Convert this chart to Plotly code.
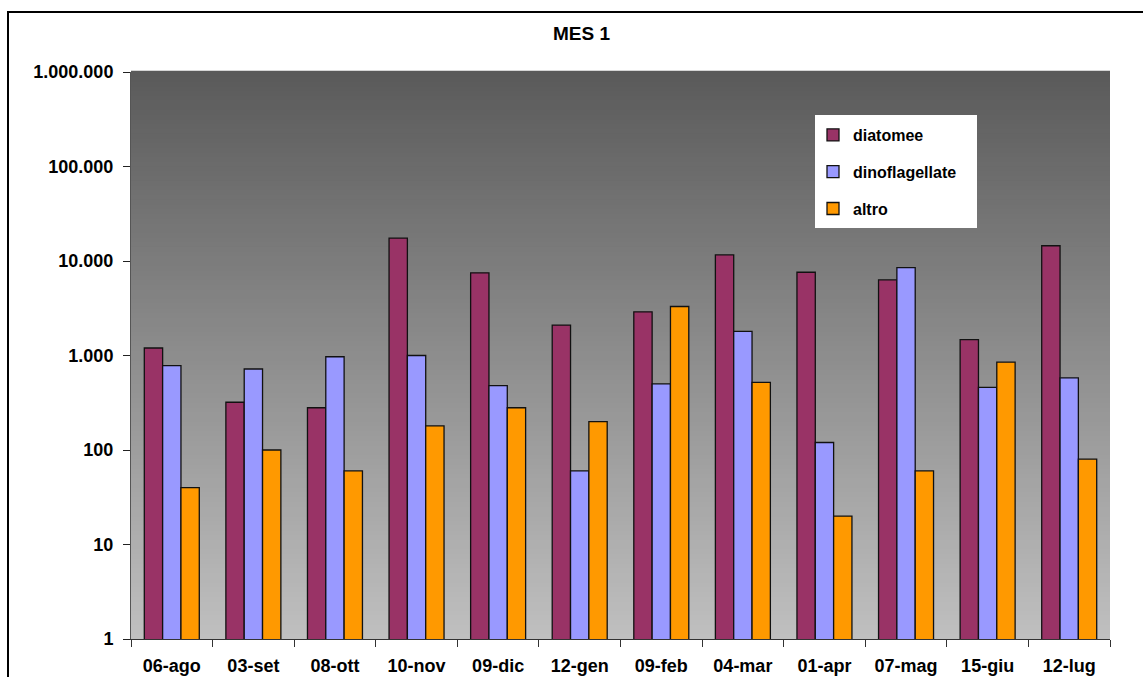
import plotly.graph_objects as go

# Sampling dates (day-month, Italian)
dates = ["06-ago", "03-set", "08-ott", "10-nov", "09-dic", "12-gen",
         "09-feb", "04-mar", "01-apr", "07-mag", "15-giu", "12-lug"]

# Cell counts per group
diatomee = [1200, 320, 280, 17500, 7500, 2100, 2900, 11600, 7600, 6300, 1470, 14500]
dinoflagellate = [780, 720, 970, 1000, 480, 60, 500, 1800, 120, 8500, 460, 580]
altro = [40, 100, 60, 180, 280, 200, 3300, 520, 20, 60, 850, 80]

# Log axis ticks and their labels (dot as thousands separator)
y_tickvals = [1, 10, 100, 1000, 10000, 100000, 1000000]
y_ticktext = ["1", "10", "100", "1.000", "10.000", "100.000", "1.000.000"]

FONT = "Arial, Liberation Sans, sans-serif"
W, H = 1143, 677
ML, MR, MT, MB = 131, 33, 72, 38
plot_w = W - ML - MR
plot_h = H - MT - MB

fig = go.Figure()
series = [("diatomee", diatomee, "#993366"),
          ("dinoflagellate", dinoflagellate, "#9999FF"),
          ("altro", altro, "#FF9900")]
for name, vals, col in series:
    fig.add_trace(go.Bar(
        x=dates, y=vals, name=name, legendgroup=name,
        marker=dict(color=col, line=dict(color="#111111", width=1.3)),
    ))

# Vertical grey gradient behind the bars
shapes = []
n = 120
top_c, bot_c = 90, 192
for i in range(n):
    t = (i + 0.5) / n
    c = round(bot_c + (top_c - bot_c) * t)
    shapes.append(dict(type="rect", xref="paper", yref="paper",
                       x0=0, x1=1, y0=i / n, y1=(i + 1) / n + 0.002,
                       fillcolor=f"rgb({c},{c},{c})", line=dict(width=0),
                       layer="below"))

# Outer chart frame
px = lambda v: (v - ML) / plot_w
py = lambda v: (H - MB - v) / plot_h
shapes.append(dict(type="rect", xref="paper", yref="paper",
                   x0=px(8), x1=px(1160), y0=py(700), y1=py(12),
                   line=dict(color="black", width=2), fillcolor="rgba(0,0,0,0)",
                   layer="above"))
# White legend panel
shapes.append(dict(type="rect", xref="paper", yref="paper",
                   x0=px(815), x1=px(977), y0=py(228), y1=py(115),
                   line=dict(width=0), fillcolor="white", layer="above"))

fig.update_layout(
    width=W, height=H,
    margin=dict(l=ML, r=MR, t=MT, b=MB, pad=0, autoexpand=False),
    paper_bgcolor="white", plot_bgcolor="rgba(0,0,0,0)",
    font=dict(family=FONT, color="black"),
    barmode="group", bargap=0.326, bargroupgap=0,
    shapes=shapes,
    showlegend=True,
    legend=dict(x=px(813), y=py(118), xanchor="left", yanchor="top",
                bgcolor="rgba(0,0,0,0)", borderwidth=0,
                font=dict(size=16, family=FONT, weight="bold"),
                tracegroupgap=13, traceorder="grouped"),
    annotations=[dict(text="<b>MES 1</b>", xref="paper", yref="paper",
                      x=px(581), y=py(34), xanchor="center", yanchor="middle",
                      showarrow=False, font=dict(size=19, family=FONT))],
)

fig.update_xaxes(
    type="category", showgrid=False, showline=True, linecolor="#333333",
    linewidth=1, ticks="outside", tickson="boundaries", ticklen=7,
    tickcolor="#333333", tickfont=dict(size=18, family=FONT, weight="bold"),
    ticklabelstandoff=10, zeroline=False, automargin=False,
)
fig.update_yaxes(
    type="log", range=[0, 6], showgrid=False, showline=True,
    linecolor="#555555", linewidth=1, ticks="outside", ticklen=7,
    tickcolor="#222222", tickvals=y_tickvals, ticktext=y_ticktext,
    tickfont=dict(size=18, family=FONT, weight="bold"), ticklabelstandoff=6,
    zeroline=False, automargin=False,
)

fig.write_html("out.html")
